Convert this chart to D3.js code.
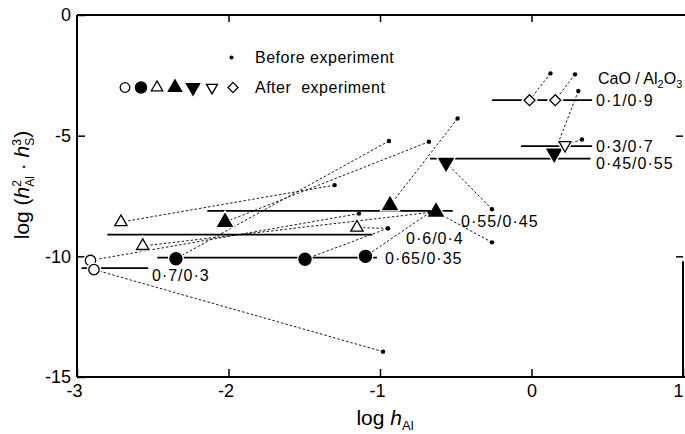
<!DOCTYPE html>
<html>
<head>
<meta charset="utf-8">
<script src="https://cdnjs.cloudflare.com/ajax/libs/d3/7.8.5/d3.min.js"></script>
<style>
  body { margin: 0; background: #fff; }
  svg { display: block; font-family: "Liberation Sans", Arial, sans-serif; }
  .tick text { font-size: 18px; fill: #000; }
  .lbl { font-size: 16px; letter-spacing: 1px; }
</style>
</head>
<body>
<div id="chart"></div>
<script>
// CaO/Al2O3 slag ratios, each with its equilibrium level (solid line)
var ratios = ["0\u00b71/0\u00b79", "0\u00b73/0\u00b77", "0\u00b745/0\u00b755", "0\u00b755/0\u00b745", "0\u00b76/0\u00b74", "0\u00b765/0\u00b735", "0\u00b77/0\u00b73"];
var ratioSymbols = ["diamond", "downOpen", "downFilled", "upFilled", "upOpen", "circleFilled", "circleOpen"];
var levelY = [-3.53, -5.43, -5.95, -8.12, -9.10, -10.05, -10.49];
var levelFrom = [-0.26, -0.07, -0.67, -2.14, -2.80, -2.47, -2.97];
var levelTo = [0.40, 0.40, 0.39, -0.52, -1.05, -1.02, -2.53];
var labelX = [0.426, 0.426, 0.426, -0.465, -0.828, -0.967, -2.505];
var labelY = [-3.53, -5.43, -6.13, -8.54, -9.24, -10.07, -10.77];

// experiments: ratio index, after-experiment point, before-experiment point
var expRatio = [6, 6, 5, 5, 5, 4, 4, 4, 3, 3, 3, 2, 2, 1, 0, 0];
var afterX = [-2.911, -2.888, -2.347, -1.495, -1.096, -2.71, -2.566, -1.152, -2.023, -0.934, -0.630, -0.564, 0.150, 0.221, -0.013, 0.157];
var afterY = [-10.17, -10.55, -10.10, -10.12, -10.00, -8.58, -9.57, -8.81, -8.58, -7.89, -8.16, -6.11, -5.73, -5.39, -3.53, -3.53];
var beforeX = [-1.139, -0.980, -0.941, -0.948, -0.670, -1.30, -0.670, -0.948, -0.677, -0.488, -0.261, -0.261, 0.309, 0.333, 0.125, 0.287];
var beforeY = [-8.23, -13.95, -5.22, -8.84, -8.18, -7.05, -8.18, -8.84, -5.25, -4.29, -9.42, -8.05, -3.15, -5.16, -2.42, -2.46];

var xTicks = [-3, -2, -1, 0, 1];
var yTicks = [0, -5, -10, -15];

var width = 685, height = 434;
var svg = d3.select("#chart").append("svg")
    .attr("width", width)
    .attr("height", height);

var x = d3.scaleLinear().domain([-3, 1]).range([77, 683]);
var y = d3.scaleLinear().domain([0, -15]).range([15, 377]);

function fmt(d) { return d < 0 ? "-" + Math.abs(d) : "" + d; }

// axes, ticks point inwards
var gx = svg.append("g")
    .attr("transform", "translate(0," + y(-15) + ")")
    .call(d3.axisBottom(x).tickValues(xTicks).tickSize(-8).tickSizeOuter(0).tickPadding(7).tickFormat(fmt));
gx.selectAll(".tick text")
    .attr("dx", function (d) { return d < 0 ? -3 : 0; })
    .attr("text-anchor", function (d) { return d == 1 ? "end" : "middle"; });

var gy = svg.append("g")
    .attr("transform", "translate(" + x(-3) + ",0)")
    .call(d3.axisLeft(y).tickValues(yTicks).tickSize(-8).tickSizeOuter(0).tickPadding(6).tickFormat(fmt));

svg.append("g")
    .attr("transform", "translate(0," + y(0) + ")")
    .call(d3.axisTop(x).tickValues([-2, -1, 0]).tickSize(-7).tickSizeOuter(0).tickFormat(""));
svg.append("g")
    .attr("transform", "translate(" + x(1) + ",0)")
    .call(d3.axisRight(y).tickValues([-5, -10]).tickSize(-7).tickSizeOuter(0).tickFormat(""));

svg.selectAll(".domain").remove();
svg.selectAll(".tick line").attr("stroke", "#000").attr("stroke-width", 1.5);

// frame (right edge only shows in the lower part of the scan)
var frame = [
    [x(-3), y(0), x(1) + 2, y(0)],
    [x(-3), y(0), x(-3), y(-15)],
    [x(-3), y(-15), x(1) + 2, y(-15)],
    [x(1), y(-10.2), x(1), y(-15)]
];
svg.selectAll("line.frame").data(frame).enter().append("line")
    .attr("class", "frame")
    .attr("x1", function (d) { return d[0]; })
    .attr("y1", function (d) { return d[1]; })
    .attr("x2", function (d) { return d[2]; })
    .attr("y2", function (d) { return d[3]; })
    .attr("stroke", "#000")
    .attr("stroke-width", 2);

// equilibrium levels
svg.selectAll("line.level").data(ratios).enter().append("line")
    .attr("class", "level")
    .attr("x1", function (d, i) { return x(levelFrom[i]); })
    .attr("x2", function (d, i) { return x(levelTo[i]); })
    .attr("y1", function (d, i) { return y(levelY[i]); })
    .attr("y2", function (d, i) { return y(levelY[i]); })
    .attr("stroke", "#000")
    .attr("stroke-width", 1.7);

// before -> after connections
svg.selectAll("line.conn").data(expRatio).enter().append("line")
    .attr("class", "conn")
    .attr("x1", function (d, i) { return x(beforeX[i]); })
    .attr("y1", function (d, i) { return y(beforeY[i]); })
    .attr("x2", function (d, i) { return x(afterX[i]); })
    .attr("y2", function (d, i) { return y(afterY[i]); })
    .attr("stroke", "#000")
    .attr("stroke-width", 0.9)
    .attr("stroke-dasharray", "2.5,2");

function symbolFor(kind, k) {
    var type = d3.symbolCircle, size = 115, rot = 0;
    if (kind == "circleOpen") { size = 85; }
    else if (kind == "upFilled") { type = d3.symbolTriangle; size = 90; }
    else if (kind == "upOpen") { type = d3.symbolTriangle; size = 66; }
    else if (kind == "downFilled") { type = d3.symbolTriangle; size = 90; rot = 180; }
    else if (kind == "downOpen") { type = d3.symbolTriangle; size = 62; rot = 180; }
    else if (kind == "diamond") { type = d3.symbolSquare; size = 60; rot = 45; }
    return { path: d3.symbol().type(type).size(size * k)(), rot: rot, open: kind.indexOf("Open") > 0 || kind == "diamond" };
}

function drawMarker(g, kind, px, py, k, halo) {
    var s = symbolFor(kind, k);
    var t = "translate(" + px + "," + py + ") rotate(" + s.rot + ")";
    if (halo) {
        g.append("path").attr("d", s.path).attr("transform", t)
            .attr("fill", "#fff").attr("stroke", "#fff").attr("stroke-width", 4);
    }
    g.append("path").attr("d", s.path).attr("transform", t)
        .attr("fill", s.open ? "#fff" : "#000")
        .attr("stroke", "#000")
        .attr("stroke-width", 1.3);
}

var marks = svg.append("g");
expRatio.forEach(function (r, i) {
    drawMarker(marks, ratioSymbols[r], x(afterX[i]), y(afterY[i]), 1, true);
});

svg.selectAll("circle.before").data(beforeX).enter().append("circle")
    .attr("class", "before")
    .attr("cx", function (d) { return x(d); })
    .attr("cy", function (d, i) { return y(beforeY[i]); })
    .attr("r", 2.2)
    .attr("fill", "#000");

// ratio labels
svg.selectAll("text.lbl").data(ratios).enter().append("text")
    .attr("class", "lbl")
    .attr("x", function (d, i) { return x(labelX[i]); })
    .attr("y", function (d, i) { return y(labelY[i]); })
    .attr("dy", "0.35em")
    .text(function (d) { return d; });

var head = svg.append("text")
    .attr("x", x(0.439))
    .attr("y", y(-2.61))
    .attr("dy", "0.35em")
    .attr("font-size", 16);
head.append("tspan").text("CaO / Al");
head.append("tspan").attr("font-size", 11).attr("dy", 4).text("2");
head.append("tspan").attr("dy", -4).text("O");
head.append("tspan").attr("font-size", 11).attr("dy", 4).text("3");

// legend
var legend = svg.append("g");
legend.append("circle").attr("cx", 231.5).attr("cy", 57.5).attr("r", 2).attr("fill", "#000");
legend.append("text").attr("x", 255).attr("y", 57.5).attr("dy", "0.35em")
    .attr("font-size", 16).attr("letter-spacing", 0.5).text("Before experiment");

var legendKinds = ["circleOpen", "circleFilled", "upOpen", "upFilled", "downFilled", "downOpen", "diamond"];
var legendX = [125, 141, 157, 175, 193, 212, 233];
legendKinds.forEach(function (k, i) {
    drawMarker(legend, k, legendX[i], 87.5, 0.85, false);
});
legend.append("text").attr("x", 255).attr("y", 87.5).attr("dy", "0.35em")
    .attr("font-size", 16).attr("letter-spacing", 0.5)
    .style("white-space", "pre").text("After  experiment");

// axis titles
var xt = svg.append("text")
    .attr("x", 385).attr("y", 425)
    .attr("text-anchor", "middle")
    .attr("font-size", 21);
xt.append("tspan").text("log ");
xt.append("tspan").attr("font-style", "italic").text("h");
xt.append("tspan").attr("font-size", 13).attr("dy", 5).text("Al");

var yt = svg.append("text")
    .attr("transform", "translate(29,185) rotate(-90)")
    .attr("text-anchor", "middle")
    .attr("font-size", 21);
yt.append("tspan").text("log (");
yt.append("tspan").attr("font-style", "italic").text("h");
yt.append("tspan").attr("font-size", 12).attr("dy", -8).text("2");
yt.append("tspan").attr("font-size", 12).attr("dx", -6.7).attr("dy", 13).text("Al");
yt.append("tspan").attr("dy", -5).style("white-space", "pre").text(" \u00b7 ");
yt.append("tspan").attr("font-style", "italic").text("h");
yt.append("tspan").attr("font-size", 12).attr("dy", -8).text("3");
yt.append("tspan").attr("font-size", 12).attr("dx", -6.7).attr("dy", 13).text("S");
yt.append("tspan").attr("dy", -5).text(")");
</script>
</body>
</html>
